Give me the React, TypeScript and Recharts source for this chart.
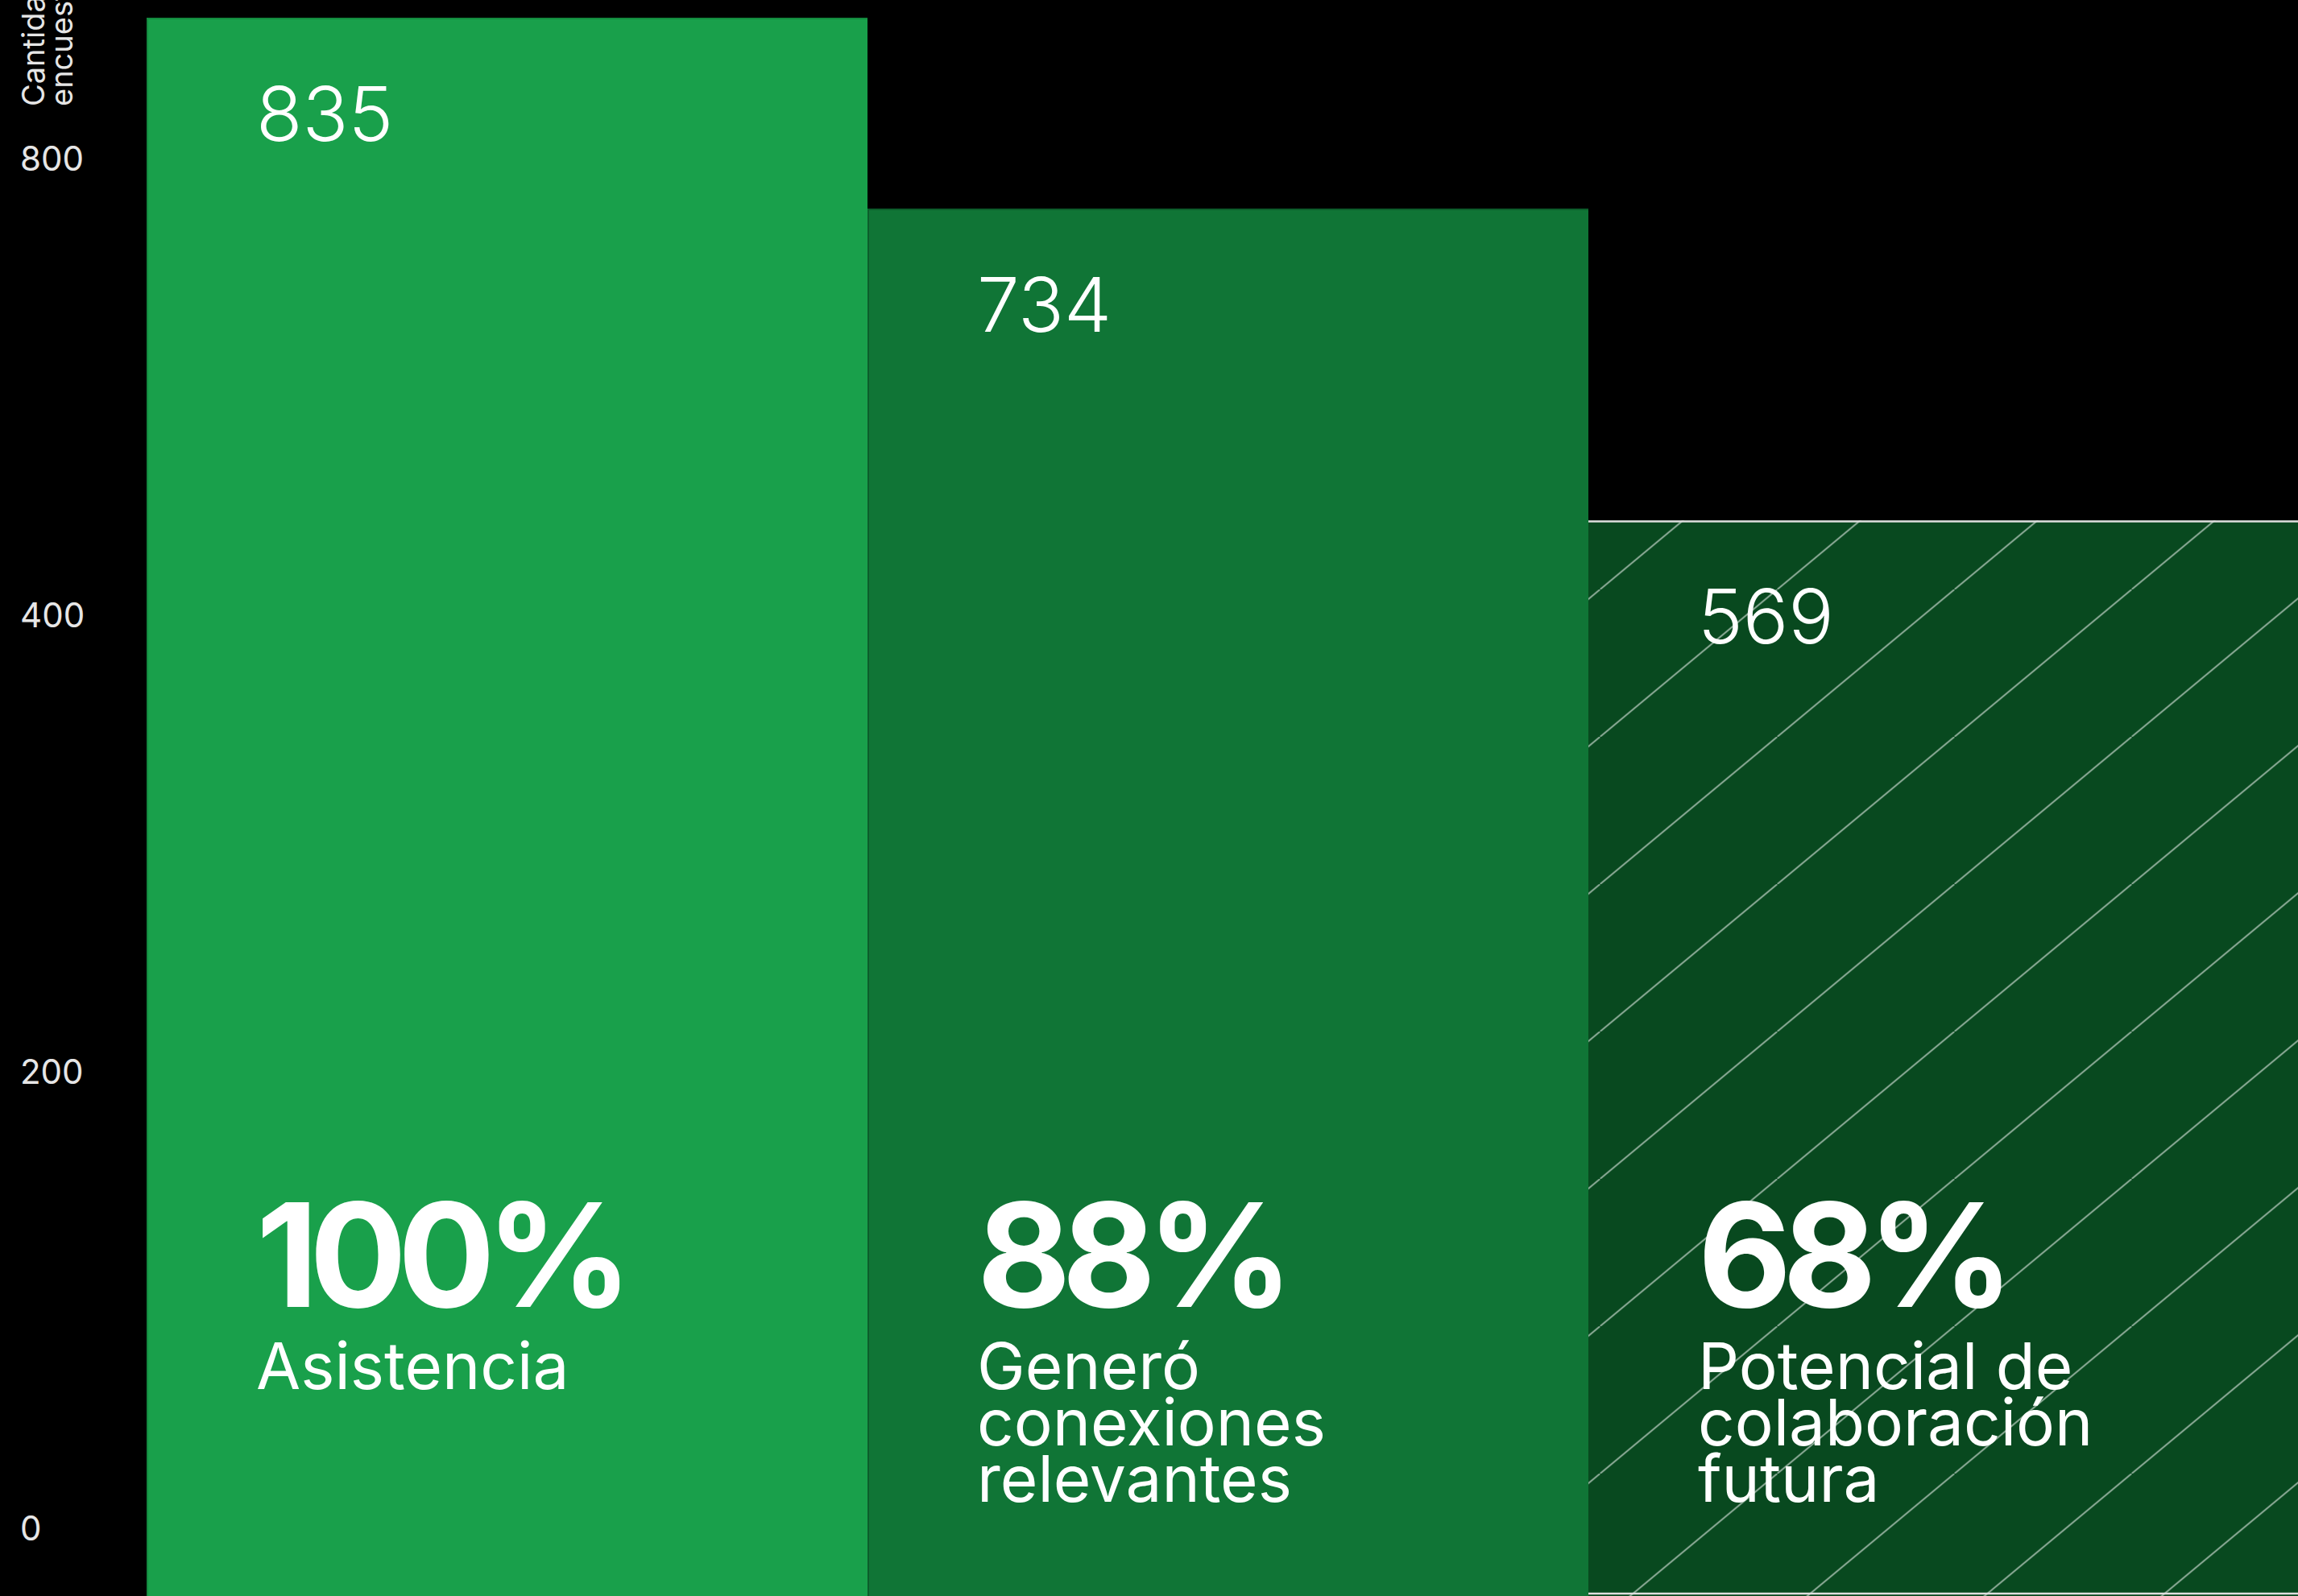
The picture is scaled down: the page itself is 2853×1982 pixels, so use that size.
import React from 'react'
import { BarChart, Bar, XAxis, YAxis, LabelList } from 'recharts'

// survey funnel: respondents per stage
const CATEGORIES = ['Asistencia', 'Generó conexiones relevantes', 'Potencial de colaboración futura']
const CATEGORY_LINES = [['Asistencia'], ['Generó', 'conexiones', 'relevantes'], ['Potencial de', 'colaboración', 'futura']]
const RESPONSES = [835, 734, 569]
const PERCENTS = [100, 88, 68]
const TICK_LABELS = ['0', '200', '400', '800']
const AXIS_TITLE = ['Cantidad de', 'encuestas']

const COLORS = ['#19a04b', '#107536', '#08491f']
const EDGE_COLORS = ['#138a3f', '#0c5d2b', '#08491f']
const FONT = 'Inter, "Noto Sans", sans-serif'

const W = 2853
const H = 1982
const CHART_W = 2867

const data = CATEGORIES.map((name, i) => ({
  name,
  value: RESPONSES[i],
  pct: PERCENTS[i],
  lines: CATEGORY_LINES[i],
}))
const tickIndex = TICK_LABELS.map((_, i) => i)

function idxOf(props: any) {
  if (typeof props.index === 'number') return props.index
  return CATEGORIES.indexOf(props.payload?.name)
}

function BarShape(props: any) {
  const { x, y, width, height } = props
  const i = idxOf(props)
  if (i === 2) {
    return (
      <g>
        <rect x={x} y={y} width={width} height={height} fill={COLORS[2]} />
        <rect x={x} y={y} width={width} height={height} fill="url(#hatch)" />
        <line x1={x} x2={x + width} y1={y + 1} y2={y + 1} stroke="#dedede" strokeWidth={2.5} />
        <line x1={x} x2={x + width} y1={y + height - 3} y2={y + height - 3} stroke="#dedede" strokeWidth={2.5} />
      </g>
    )
  }
  return (
    <g>
      <rect x={x} y={y} width={width} height={height} fill={COLORS[i]} />
      <path
        d={`M${x + 1},${y + height} V${y + 1} H${x + width}`}
        fill="none"
        stroke={EDGE_COLORS[i]}
        strokeWidth={2}
      />
    </g>
  )
}

function BarText(props: any) {
  const { x, y, width, height } = props
  const i = idxOf(props)
  const d = data[i]
  if (!d) return null
  const left = x + 136
  const bottom = y + height
  return (
    <g fill="#ffffff" fontFamily={FONT}>
      <text x={left} y={y + 153} fontSize={94} fontWeight={300}>
        {d.value}
      </text>
      <text x={left} y={bottom - 359} fontSize={179} fontWeight={700} letterSpacing={-11}>
        {d.pct}%
      </text>
      <text x={left} y={bottom - 257} fontSize={80} fontWeight={400}>
        {d.lines.map((l, k) => (
          <tspan key={k} x={left} dy={k === 0 ? 0 : 70}>
            {l}
          </tspan>
        ))}
      </text>
    </g>
  )
}

function TickLabel(props: any) {
  const { y, payload } = props
  return (
    <text x={25} y={y} dy={15} fill="#e6e6e6" fontSize={42} fontFamily={FONT}>
      {TICK_LABELS[payload.value]}
    </text>
  )
}

function AxisTitle() {
  return (
    <text
      x={55}
      y={132}
      transform="rotate(-90, 55, 132)"
      fill="#e6e6e6"
      fontSize={38}
      fontFamily={FONT}
    >
      {AXIS_TITLE.map((l, k) => (
        <tspan key={k} x={55} dy={k === 0 ? 0 : 35}>
          {l}
        </tspan>
      ))}
    </text>
  )
}

export default function App() {
  return (
    <div
      style={{
        position: 'absolute',
        left: 0,
        top: 0,
        width: W,
        height: H,
        background: '#000',
        overflow: 'hidden',
      }}
    >
      <BarChart
        width={CHART_W}
        height={H}
        data={data}
        margin={{ top: 22, right: 0, bottom: 0, left: 0 }}
        barCategoryGap={0}
      >
        <defs>
          <pattern id="hatch" patternUnits="userSpaceOnUse" x={6.5} y={0} width={220} height={183}>
            <line x1={0} y1={183} x2={220} y2={0} stroke="rgba(255,255,255,0.55)" strokeWidth={2} />
          </pattern>
        </defs>
        <XAxis dataKey="name" hide />
        <YAxis
          yAxisId="t"
          type="number"
          domain={[-0.148, 3.309]}
          ticks={tickIndex}
          allowDataOverflow
          interval={0}
          width={182}
          axisLine={false}
          tickLine={false}
          tick={TickLabel}
          label={<AxisTitle />}
        />
        <YAxis yAxisId="v" type="number" domain={[0, 'dataMax']} hide />
        <Bar yAxisId="v" dataKey="value" shape={BarShape} isAnimationActive={false}>
          <LabelList dataKey="value" content={BarText} />
        </Bar>
      </BarChart>
    </div>
  )
}
